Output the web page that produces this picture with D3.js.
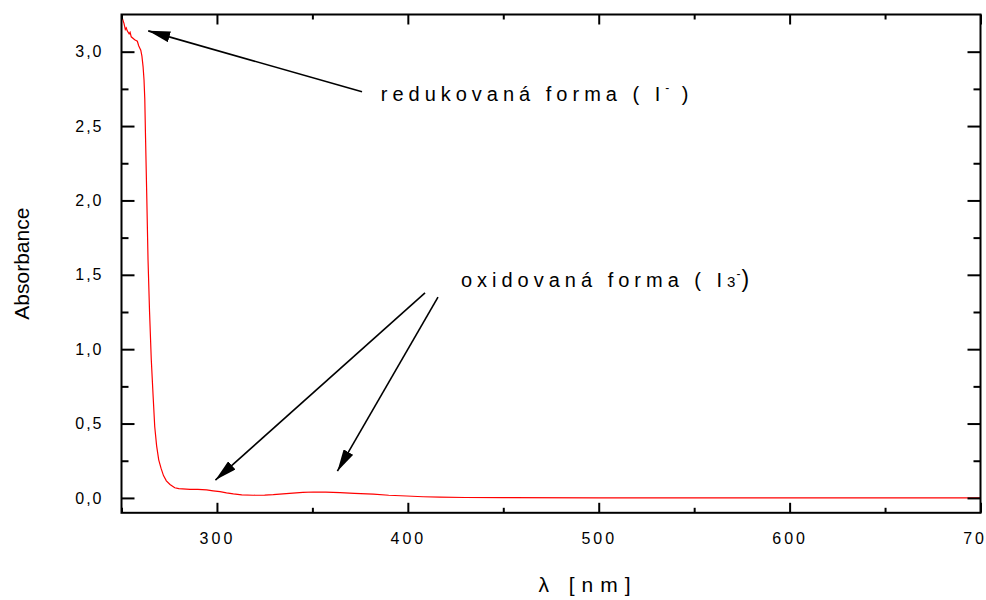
<!DOCTYPE html>
<html>
<head>
<meta charset="utf-8">
<script src="https://cdn.jsdelivr.net/npm/d3@7"></script>
<style>
  html, body { margin: 0; padding: 0; background: #fff; }
  svg { display: block; font-family: Arial, "Liberation Sans", sans-serif; }
</style>
</head>
<body>
<svg id="chart" width="986" height="600"></svg>
<script>
// ---- data ----
const wavelength = [250, 250.3, 251.3, 252, 252.5, 253, 254, 254.5, 255.1, 256.9, 258.3, 259, 260.1, 260.7, 261.3, 261.8,
  262.2, 262.6, 263.2, 263.9, 264.7, 265.6, 266.5, 267.4, 268.4, 269.5, 270.7, 272, 273.5, 275.4, 277.9, 280,
  285.9, 290, 294.6, 298, 301.6, 305, 308.6, 313, 319, 325, 329.5, 338, 345, 350.5, 357, 364.5, 372, 381.9,
  390, 399.4, 408, 416.8, 430, 450, 500, 550, 600, 650, 700];
const absorbance = [3.25, 3.23, 3.19, 3.15, 3.16, 3.14, 3.12, 3.13, 3.10, 3.08, 3.07, 3.04, 3.01, 2.97, 2.90, 2.81,
  2.68, 2.42, 2.05, 1.60, 1.25, 0.93, 0.70, 0.48, 0.35, 0.256, 0.20, 0.15, 0.115, 0.09, 0.068, 0.062,
  0.058, 0.057, 0.054, 0.048, 0.042, 0.034, 0.027, 0.021, 0.018, 0.019, 0.022, 0.031, 0.037, 0.040, 0.039, 0.036, 0.031, 0.025,
  0.018, 0.013, 0.008, 0.005, 0.003, 0.002, 0.001, 0.001, 0.001, 0.001, 0.001];

const xMajorTicks = [300, 400, 500, 600, 700];
const xMinorTicks = [250, 350, 450, 550, 650];
const yMajorTicks = [0, 0.5, 1.0, 1.5, 2.0, 2.5, 3.0];
const yMinorTicks = [0.25, 0.75, 1.25, 1.75, 2.25, 2.75];

const xTitle = "λ [nm]";
const yTitle = "Absorbance";

// annotation labels and arrows in data coordinates
const labelReduced = { x: 385.8, y: 2.67 };
const labelOxidized = { x: 427.8, y: 1.418 };
const arrowFrom = [[376, 2.73], [409, 1.378], [415.8, 1.35]];
const arrowTo   = [[264, 3.14], [299.2, 0.12], [363.1, 0.18]];

// ---- layout ----
const svg = d3.select("#chart");
const pLeft = 121.5, pRight = 980.5, pTop = 14.5, pBottom = 512.8;
const x = d3.scaleLinear().domain([250, 700]).range([pLeft, pRight]);
const y = d3.scaleLinear().domain([-0.1, 3.25]).range([pBottom, pTop]);
const fmt = v => d3.format(".1f")(v).replace(".", ",");
const FONT = "Arial, 'Liberation Sans', sans-serif";

const defs = svg.append("defs");
defs.append("clipPath").attr("id", "plotclip")
  .append("rect").attr("x", pLeft).attr("y", pTop).attr("width", pRight - pLeft).attr("height", pBottom - pTop);

defs.append("marker")
  .attr("id", "ahead").attr("viewBox", "0 0 20 10").attr("refX", 20).attr("refY", 5)
  .attr("markerUnits", "userSpaceOnUse").attr("markerWidth", 22).attr("markerHeight", 11)
  .attr("orient", "auto")
  .append("path").attr("d", "M0,0 L20,5 L0,10 Z").attr("fill", "#000");

// curve
const pts = wavelength.map((w, i) => [w, absorbance[i]]);
svg.append("path")
  .datum(pts)
  .attr("clip-path", "url(#plotclip)")
  .attr("fill", "none")
  .attr("stroke", "#ff0000")
  .attr("stroke-width", 1.2)
  .attr("d", d3.line().x(d => x(d[0])).y(d => y(d[1])));

// axes (ticks inward on all four sides)
const tickStyle = g => g.call(g => g.select(".domain").remove())
  .call(g => g.selectAll("line").attr("stroke", "#000").attr("stroke-width", 2));

// bottom
svg.append("g").attr("transform", `translate(0,${pBottom})`)
  .call(d3.axisBottom(x).tickValues(xMajorTicks).tickSize(-10).tickPadding(20).tickFormat(d3.format("d")))
  .call(tickStyle)
  .call(g => g.selectAll("text").attr("fill", "#000").attr("font-size", 16).style("letter-spacing", "3px")
    .attr("font-family", FONT));
svg.append("g").attr("transform", `translate(0,${pBottom})`)
  .call(d3.axisBottom(x).tickValues(xMinorTicks).tickSize(-5).tickFormat(""))
  .call(tickStyle);
// top
svg.append("g").attr("transform", `translate(0,${pTop})`)
  .call(d3.axisTop(x).tickValues(xMajorTicks).tickSize(-10).tickFormat(""))
  .call(tickStyle);
svg.append("g").attr("transform", `translate(0,${pTop})`)
  .call(d3.axisTop(x).tickValues(xMinorTicks).tickSize(-5).tickFormat(""))
  .call(tickStyle);
// left
svg.append("g").attr("transform", `translate(${pLeft},0)`)
  .call(d3.axisLeft(y).tickValues(yMajorTicks).tickSize(-13).tickPadding(18).tickFormat(fmt))
  .call(tickStyle)
  .call(g => g.selectAll("text").attr("fill", "#000").attr("font-size", 16).style("letter-spacing", "2px")
    .attr("font-family", FONT));
svg.append("g").attr("transform", `translate(${pLeft},0)`)
  .call(d3.axisLeft(y).tickValues(yMinorTicks).tickSize(-7).tickFormat(""))
  .call(tickStyle);
// right
svg.append("g").attr("transform", `translate(${pRight},0)`)
  .call(d3.axisRight(y).tickValues(yMajorTicks).tickSize(-13).tickFormat(""))
  .call(tickStyle);
svg.append("g").attr("transform", `translate(${pRight},0)`)
  .call(d3.axisRight(y).tickValues(yMinorTicks).tickSize(-7).tickFormat(""))
  .call(tickStyle);

// frame
svg.append("rect")
  .attr("x", pLeft).attr("y", pTop).attr("width", pRight - pLeft).attr("height", pBottom - pTop)
  .attr("fill", "none").attr("stroke", "#000").attr("stroke-width", 2);

// axis titles
svg.append("text")
  .attr("transform", `translate(29,${(pTop + pBottom) / 2}) rotate(-90)`)
  .attr("text-anchor", "middle")
  .attr("font-size", 21)
  .attr("fill", "#000")
  .text(yTitle);

svg.append("text")
  .attr("x", 588).attr("y", 592)
  .attr("text-anchor", "middle")
  .attr("font-size", 21)
  .style("letter-spacing", "7px")
  .attr("fill", "#000")
  .text(xTitle);

// arrows
svg.append("g").selectAll("line")
  .data(arrowFrom.map((f, i) => [f, arrowTo[i]]))
  .join("line")
  .attr("x1", d => x(d[0][0])).attr("y1", d => y(d[0][1]))
  .attr("x2", d => x(d[1][0])).attr("y2", d => y(d[1][1]))
  .attr("stroke", "#000").attr("stroke-width", 1.6)
  .attr("marker-end", "url(#ahead)");

// annotation labels
const t1 = svg.append("text")
  .attr("x", x(labelReduced.x)).attr("y", y(labelReduced.y))
  .attr("font-size", 20).style("letter-spacing", "5px").attr("fill", "#000");
t1.append("tspan").text("redukovaná forma ( I");
t1.append("tspan").attr("font-size", 12).attr("dy", -9).style("letter-spacing", "2px").text("-");
t1.append("tspan").attr("dy", 9).text(" )");

const t2 = svg.append("text")
  .attr("x", x(labelOxidized.x)).attr("y", y(labelOxidized.y))
  .attr("font-size", 20).style("letter-spacing", "5px").attr("fill", "#000");
t2.append("tspan").text("oxidovaná forma ( I");
t2.append("tspan").attr("font-size", 15).style("letter-spacing", "1px").text("3");
t2.append("tspan").attr("font-size", 12).attr("dy", -9).style("letter-spacing", "1px").text("-");
t2.append("tspan").attr("dy", 9).attr("font-size", 23).text(")");
</script>
</body>
</html>
